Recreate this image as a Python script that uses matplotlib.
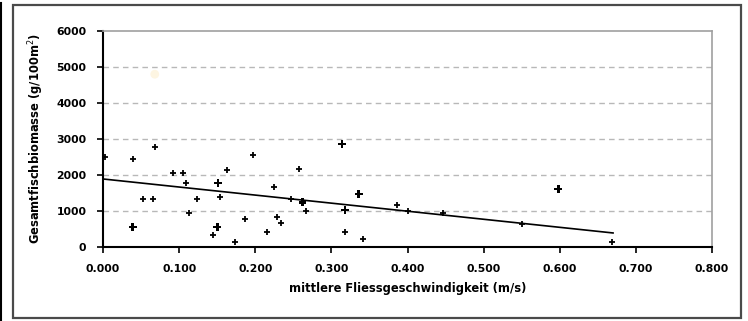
import matplotlib.pyplot as plt
from matplotlib.lines import Line2D

plt.rcParams['font.family'] = ['DejaVu Sans']

# Messpunkte (Fliessgeschwindigkeit m/s, Biomasse g/100m2)
geschw = [0.003, 0.039, 0.068, 0.053, 0.066, 0.092, 0.105, 0.109, 0.113, 0.124,
          0.145, 0.154, 0.163, 0.173, 0.186, 0.197, 0.216, 0.224, 0.229, 0.234,
          0.247, 0.258, 0.267, 0.318, 0.342, 0.386, 0.400, 0.447, 0.550, 0.669]
biomasse = [2500, 2440, 2780, 1330, 1330, 2050, 2050, 1780, 940, 1330,
            330, 1390, 2140, 140, 780, 2550, 420, 1670, 830, 670,
            1330, 2170, 1000, 420, 220, 1170, 1000, 940, 640, 140]

# doppelte Punkte (grosser Marker)
geschw_dopp = [0.039, 0.150, 0.151, 0.262, 0.314, 0.318, 0.336, 0.598]
biomasse_dopp = [560, 560, 1780, 1240, 2860, 1030, 1470, 1610]

# lineare Trendlinie
trend_x = [0.0, 0.670]
trend_y = [1890, 390]

x_ticks = [0.0, 0.1, 0.2, 0.3, 0.4, 0.5, 0.6, 0.7, 0.8]
y_ticks = [0, 1000, 2000, 3000, 4000, 5000, 6000]

fig = plt.figure(figsize=(7.48, 3.21), dpi=100)
ax = fig.add_axes([0.1377, 0.2305, 0.8142, 0.6729])

# Rahmen um das Diagramm
fig.add_artist(plt.Rectangle((0.018, 0.008), 0.973, 0.975, transform=fig.transFigure,
                             fill=False, edgecolor='#4a4a4a', linewidth=1.6))
fig.add_artist(Line2D([0.0015, 0.0015], [0.0, 0.99], transform=fig.transFigure,
                      color='black', linewidth=1.5))

for y in y_ticks[1:-1]:
    ax.axhline(y, color='#b8b8b8', linestyle=(0, (4, 3)), linewidth=1.0, zorder=0)

ax.scatter([0.068], [4800], s=40, color='#fdf5e2', edgecolors='none', zorder=1)
ax.plot(trend_x, trend_y, color='black', linewidth=1.2, zorder=2)
ax.scatter(geschw, biomasse, marker='+', s=22, color='black', linewidths=1.3, zorder=3)
ax.scatter(geschw_dopp, biomasse_dopp, marker='P', s=32, color='black',
           edgecolors='none', zorder=3)

ax.set_xlim(0, 0.8)
ax.set_ylim(0, 6000)
ax.set_xticks(x_ticks)
ax.set_xticklabels([f'{v:.3f}' for v in x_ticks])
ax.set_yticks(y_ticks)
ax.set_yticklabels([str(v) for v in y_ticks])
ax.tick_params(direction='out', length=4, width=1.2, labelsize=7.8, pad=8)
for lab in ax.get_xticklabels() + ax.get_yticklabels():
    lab.set_fontweight('bold')

ax.spines['left'].set_linewidth(1.5)
ax.spines['bottom'].set_linewidth(1.5)
ax.spines['top'].set_color('#a0a0a0')
ax.spines['right'].set_color('#a0a0a0')
ax.spines['top'].set_linewidth(1.2)
ax.spines['right'].set_linewidth(1.2)

ax.set_xlabel('mittlere Fliessgeschwindigkeit (m/s)', fontsize=8.3, fontweight='bold', labelpad=6)
ax.set_ylabel('Gesamtfischbiomasse (g/100m$^2$)', fontsize=8.3, fontweight='bold', labelpad=7)

fig.savefig('out.png', dpi=100)
